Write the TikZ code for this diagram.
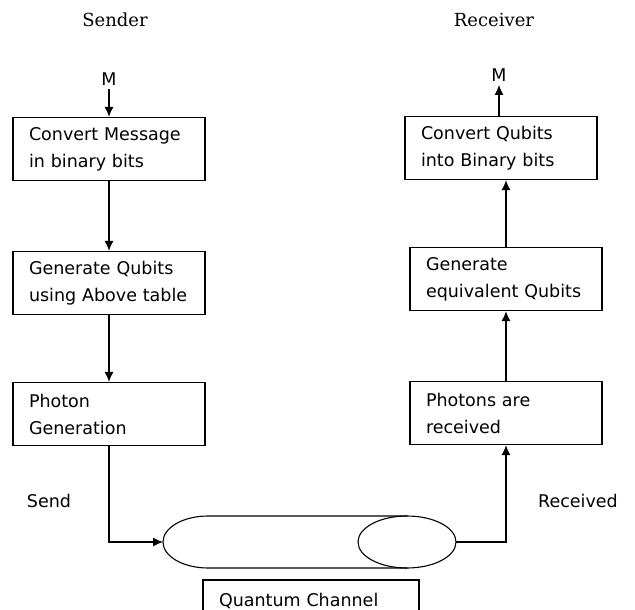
\documentclass[tikz,border=0pt]{standalone}
\usepackage{fontspec}
\setmainfont{DejaVu Sans}
\newfontfamily\sideserif{DejaVu Serif}
\usetikzlibrary{arrows.meta}

\begin{document}
\begin{tikzpicture}[
    x=1pt, y=1pt,
    every node/.style={font=\fontsize{17.5}{27}\selectfont},
    arrow/.style={-{Latex[length=10pt, width=9pt]}, line width=1.2pt},
    box/.style={draw, line width=1.2pt, align=left, text width=160pt,
        inner xsep=16pt, minimum height=63pt},
    side/.style={font=\sideserif\fontsize{18}{22}\selectfont}
]
    \useasboundingbox (0,0) rectangle (635,-610);
    \clip (0,0) rectangle (635,-610);

    % ---- Sides ----
    \node[side] (sender) at (115,-20) {Sender};
    \node[side] (receiver) at (494,-20) {Receiver};

    % ---- Sender steps ----
    \node (mL) at (109,-79) {M};
    \node[box] (msg) at (109,-149) {Convert Message\\in binary bits};
    \node[box] (qgen) at (109,-283) {Generate Qubits\\using Above table};
    \node[box] (photon) at (109,-414) {Photon\\Generation};

    % ---- Receiver steps ----
    \node (mR) at (499,-75) {M};
    \node[box] (conv) at (501,-148) {Convert Qubits\\into Binary bits};
    \node[box] (equiv) at (506,-279) {Generate\\equivalent Qubits};
    \node[box] (recv) at (506,-413) {Photons are\\received};

    % ---- Quantum channel ----
    \coordinate (chanL) at (163,-542);
    \coordinate (chanR) at (456,-542);
    \draw[line width=1.1pt] (407,-516) -- (208,-516)
        arc[start angle=90, end angle=270, x radius=45, y radius=26] -- (407,-568);
    \draw[line width=1.1pt] (407,-542) ellipse[x radius=49, y radius=26];
    \node[box, text width=184pt, minimum height=42pt] (qc) at (311,-601) {Quantum Channel};

    \node (send) at (49,-501) {Send};
    \node (got) at (578,-501) {Received};

    % ---- Flow ----
    \draw[arrow] (mL) -- (msg);
    \draw[arrow] (msg) -- (qgen);
    \draw[arrow] (qgen) -- (photon);
    \draw[arrow] (photon) |- (chanL);
    \draw[arrow] (chanR) -| (recv);
    \draw[arrow] (recv) -- (equiv);
    \draw[arrow] (equiv.north) -- (equiv.north |- conv.south);
    \draw[arrow] (conv.north -| mR) -- (mR);

\end{tikzpicture}
\end{document}
